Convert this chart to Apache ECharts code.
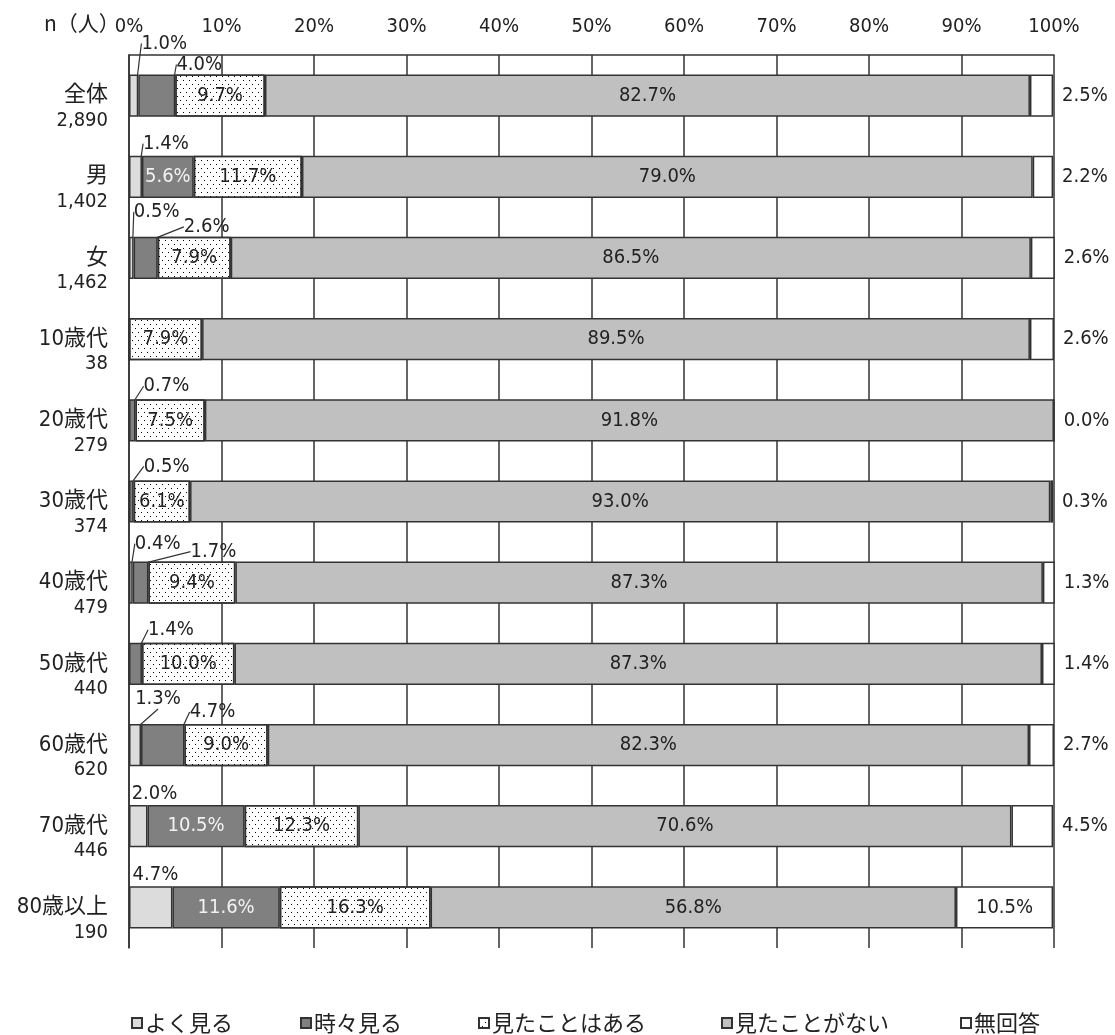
<!DOCTYPE html>
<html>
<head>
<meta charset="utf-8">
<script src="https://cdn.jsdelivr.net/npm/echarts@6/dist/echarts.min.js"></script>
<style>
  html, body { margin: 0; padding: 0; background: #fff; }
  #chart { width: 1115px; height: 1035px; }
</style>
</head>
<body>
<div id="chart"></div>
<script>
// Row labels and respondent counts
const categories = ['全体', '男', '女', '10歳代', '20歳代', '30歳代', '40歳代', '50歳代', '60歳代', '70歳代', '80歳以上'];
const sampleSizes = ['2,890', '1,402', '1,462', '38', '279', '374', '479', '440', '620', '446', '190'];

// Answer options (stack order, left to right)
const seriesNames = ['よく見る', '時々見る', '見たことはある', '見たことがない', '無回答'];

// Shares in percent, one entry per row
const oftenSee   = [1.0, 1.4, 0.5, 0, 0, 0, 0.4, 0, 1.3, 2.0, 4.7];
const sometimes  = [4.0, 5.6, 2.6, 0, 0.7, 0.5, 1.7, 1.4, 4.7, 10.5, 11.6];
const seenBefore = [9.7, 11.7, 7.9, 7.9, 7.5, 6.1, 9.4, 10.0, 9.0, 12.3, 16.3];
const neverSeen  = [82.7, 79.0, 86.5, 89.5, 91.8, 93.0, 87.3, 87.3, 82.3, 70.6, 56.8];
const noAnswer   = [2.5, 2.2, 2.6, 2.6, 0.0, 0.3, 1.3, 1.4, 2.7, 4.5, 10.5];

// Percent tick step on the top axis
const tickStep = 10;

const seriesValues = [oftenSee, sometimes, seenBefore, neverSeen, noAnswer];

// Placement of the small-segment callouts: offset of the label centre from the
// segment's right end / top edge, and whether a leader line is drawn.
const callouts = {
  '0-0': [26, -31, true],  '0-1': [24, -10, true],
  '1-0': [24, -12, true],
  '2-0': [23, -25, true],  '2-1': [49, -10, true],
  '4-1': [31, -13, true],
  '5-1': [33, -14, true],
  '6-0': [25, -18, true],  '6-1': [65, -10, true],
  '7-1': [29, -13, true],
  '8-0': [17, -25, true],  '8-1': [28, -12, true],
  '9-0': [7, -11, false],
  '10-0': [-17, -12, false]
};

// Left edge of each legend entry along the bottom row
const legendLefts = [126, 295, 473, 716, 955];

const NUM_FONT = "'DejaVu Sans Condensed', 'Liberation Sans', 'DejaVu Sans', sans-serif";
const JP_FONT = "'Noto Sans CJK JP', sans-serif";
const MIXED_FONT = "'DejaVu Sans Condensed', 'Liberation Sans', 'Noto Sans CJK JP', sans-serif";
const EDGE = '#333';

const fills = ['#dcdcdc', '#808080', '#ffffff', '#c0c0c0', '#ffffff'];

// Sparse staggered dot texture for the third answer
const dotted = {
  symbol: 'rect',
  symbolSize: 1,
  color: '#000',
  dashArrayX: [[1, 5], [0, 3, 1, 2]],
  dashArrayY: [1, 3],
  rotation: 0
};

function buildData(sIdx) {
  return seriesValues[sIdx].map(function (v, i) {
    const item = { value: v };
    const key = i + '-' + sIdx;
    if (callouts[key]) {
      item.label = { position: 'inside', color: '#222' };
      item.labelLine = { show: callouts[key][2] };
    } else if (sIdx === 4) {
      item.label = v >= 5 ? { position: 'inside' } : { position: 'right', distance: 9 };
    }
    return item;
  });
}

const series = seriesNames.map(function (name, sIdx) {
  const s = {
    name: name,
    type: 'bar',
    stack: 'total',
    barWidth: '52%',
    data: buildData(sIdx),
    itemStyle: {
      color: fills[sIdx],
      borderColor: EDGE,
      borderWidth: 1.5
    },
    label: {
      show: true,
      position: 'inside',
      fontFamily: NUM_FONT,
      fontSize: 20,
      color: sIdx === 1 ? '#f2f2f2' : '#222',
      formatter: function (p) {
        if (sIdx < 2 && p.value === 0) return '';
        return p.value.toFixed(1) + '%';
      }
    },
    labelLine: {
      show: false,
      lineStyle: { color: '#333', width: 1.2 }
    },
    labelLayout: function (p) {
      const c = callouts[p.dataIndex + '-' + p.seriesIndex];
      if (!c) return {};
      return {
        x: p.rect.x + p.rect.width + c[0],
        y: p.rect.y + c[1],
        align: 'center',
        verticalAlign: 'middle'
      };
    },
    emphasis: { disabled: true },
    animation: false
  };
  if (sIdx === 2) s.itemStyle.decal = dotted;
  return s;
});

// One legend block per answer so each entry sits at its own spot
const legends = seriesNames.map(function (name, i) {
  return {
    bottom: -4,
    left: legendLefts[i],
    itemWidth: 10,
    itemHeight: 10,
    itemGap: 0,
    icon: 'rect',
    selectedMode: false,
    textStyle: { fontFamily: JP_FONT, fontSize: 22, color: '#222', padding: [0, 0, 0, -2] },
    data: [name]
  };
});

const chart = echarts.init(document.getElementById('chart'), null, { renderer: 'canvas' });

chart.setOption({
  backgroundColor: '#ffffff',
  animation: false,
  grid: { left: 129, right: 61, top: 55, bottom: 87, containLabel: false },
  xAxis: {
    type: 'value',
    position: 'top',
    min: 0,
    max: 100,
    interval: tickStep,
    axisLine: { show: true, lineStyle: { color: EDGE, width: 1.5 } },
    axisTick: { show: false },
    axisLabel: {
      formatter: '{value}%',
      fontFamily: NUM_FONT,
      fontSize: 20,
      color: '#222',
      margin: 18
    },
    splitLine: { show: true, lineStyle: { color: EDGE, width: 1.5 } }
  },
  yAxis: {
    type: 'category',
    inverse: true,
    data: categories,
    axisLine: { show: true, lineStyle: { color: EDGE, width: 1.5 } },
    axisTick: { show: false },
    axisLabel: {
      margin: 21,
      align: 'right',
      verticalAlign: 'middle',
      padding: [24, 0, 0, 0],
      formatter: function (value, idx) {
        return '{n|' + value + '}\n{c|' + sampleSizes[idx] + '}';
      },
      rich: {
        n: { fontFamily: MIXED_FONT, fontSize: 22, lineHeight: 26, color: '#222', align: 'right' },
        c: { fontFamily: NUM_FONT, fontSize: 20, lineHeight: 24, color: '#222', align: 'right' }
      }
    }
  },
  legend: legends,
  graphic: [{
    type: 'text',
    left: 44,
    top: 13,
    style: { text: 'n（人）', font: "21px 'Noto Sans CJK JP'", fill: '#222' }
  }],
  series: series
});
</script>
</body>
</html>
